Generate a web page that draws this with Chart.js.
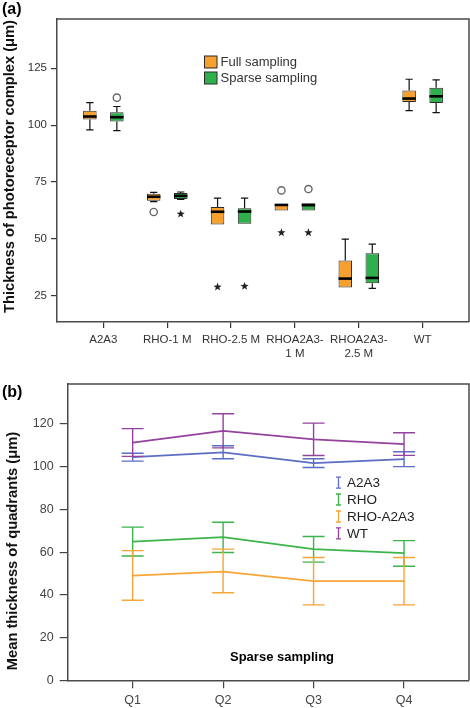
<!DOCTYPE html>
<html><head><meta charset="utf-8">
<script src="https://cdn.jsdelivr.net/npm/chart.js@4"></script>
<style>
html,body{margin:0;padding:0;background:#fff;overflow:hidden;}
#wa{position:absolute;left:0;top:0;width:470px;height:360px;}
#wb{position:absolute;left:0;top:360px;width:470px;height:348px;}
</style></head><body>
<div id="wa"><canvas id="ca" width="470" height="360"></canvas></div>
<div id="wb"><canvas id="cb" width="470" height="348"></canvas></div>
<script>
// ---------- Panel (a) data ----------
const groups = [['A2A3'], ['RHO-1 M'], ['RHO-2.5 M'], ['RHOA2A3-', '1 M'], ['RHOA2A3-', '2.5 M'], ['WT']];
const yTicksA = [25, 50, 75, 100, 125];
const fullLow  = [97.9, 66.4, 56.3, 62.5, 28.6, 106.4];
const fullQ1   = [102.5, 66.7, 56.3, 62.5, 28.6, 110.2];
const fullMed  = [103.8, 68.5, 61.9, 64.9, 32.5, 111.7];
const fullQ3   = [106.3, 69.8, 64.0, 65.3, 40.5, 115.2];
const fullHigh = [109.9, 70.4, 67.9, 65.3, 49.9, 120.2];
const sparseLow  = [97.6, 67.3, 56.6, 62.5, 28.2, 105.5];
const sparseQ1   = [101.6, 67.5, 56.6, 62.5, 30.4, 109.8];
const sparseMed  = [103.5, 68.9, 62.0, 64.8, 32.8, 112.7];
const sparseQ3   = [105.7, 70.1, 63.4, 65.6, 43.6, 116.5];
const sparseHigh = [108.2, 70.6, 67.9, 65.6, 47.7, 119.9];
// [group index, value, marker]
const fullOutliers   = [[1, 61.8, 'circle'], [2, 28.8, 'star'], [3, 71.3, 'circle'], [3, 52.7, 'star']];
const sparseOutliers = [[0, 112.1, 'circle'], [1, 60.9, 'star'], [2, 29.1, 'star'], [3, 71.9, 'circle'], [3, 52.7, 'star']];

// ---------- Panel (b) data ----------
const quadrants = ['Q1', 'Q2', 'Q3', 'Q4'];
const yTicksB = [0, 20, 40, 60, 80, 100, 120];
const seriesNames = ['A2A3', 'RHO', 'RHO-A2A3', 'WT'];
const a2a3Mean = [104.5, 106.7, 101.7, 103.5];
const a2a3Low  = [102.6, 103.7, 99.6, 100.0];
const a2a3High = [106.3, 109.8, 103.7, 107.0];
const rhoMean = [64.9, 67.0, 61.4, 59.5];
const rhoLow  = [58.2, 59.8, 55.3, 53.4];
const rhoHigh = [71.7, 74.0, 67.3, 65.4];
const rhoA2a3Mean = [49.0, 50.9, 46.4, 46.4];
const rhoA2a3Low  = [37.5, 41.0, 35.3, 35.3];
const rhoA2a3High = [60.7, 61.4, 57.5, 57.5];
const wtMean = [111.3, 116.8, 112.8, 110.6];
const wtLow  = [104.8, 108.8, 105.2, 105.3];
const wtHigh = [117.8, 124.8, 120.4, 115.9];

// ---------- styles ----------
const ORANGE = '#f6a030';
const GREEN = '#2fb04c';
const BOXLINE = '#2a2a2a';
const AXIS = '#4a4a4a';
const FONT = 'Liberation Sans, Arial, sans-serif';
const lineColors = ['#5b6dc6', '#3cb44b', '#f7a536', '#94429e'];

function drawStar(ctx, x, y, r) {
  ctx.beginPath();
  for (let k = 0; k < 10; k++) {
    const rad = k % 2 === 0 ? r : r * 0.42;
    const ang = -Math.PI / 2 + k * Math.PI / 5;
    const px = x + rad * Math.cos(ang), py = y + rad * Math.sin(ang);
    if (k === 0) ctx.moveTo(px, py); else ctx.lineTo(px, py);
  }
  ctx.closePath();
  ctx.fill();
}

const boxPlugin = {
  id: 'boxplot',
  afterDatasetsDraw(chart) {
    const ctx = chart.ctx, ys = chart.scales.y;
    const stats = [
      {low: fullLow, med: fullMed, q1: fullQ1, q3: fullQ3, high: fullHigh, out: fullOutliers},
      {low: sparseLow, med: sparseMed, q1: sparseQ1, q3: sparseQ3, high: sparseHigh, out: sparseOutliers}
    ];
    ctx.save();
    stats.forEach((s, di) => {
      const meta = chart.getDatasetMeta(di);
      meta.data.forEach((el, i) => {
        const x = el.x, w = el.width;
        const cap = w * 0.27;
        ctx.strokeStyle = '#111'; ctx.lineWidth = 1.2;
        ctx.beginPath();
        if (s.high[i] > s.q3[i]) {
          const yh = ys.getPixelForValue(s.high[i]), yq = ys.getPixelForValue(s.q3[i]);
          ctx.moveTo(x, yq); ctx.lineTo(x, yh);
          ctx.moveTo(x - cap, yh); ctx.lineTo(x + cap, yh);
        }
        if (s.low[i] < s.q1[i]) {
          const yl = ys.getPixelForValue(s.low[i]), yq = ys.getPixelForValue(s.q1[i]);
          ctx.moveTo(x, yq); ctx.lineTo(x, yl);
          ctx.moveTo(x - cap, yl); ctx.lineTo(x + cap, yl);
        }
        ctx.stroke();
        const ym = ys.getPixelForValue(s.med[i]);
        ctx.strokeStyle = '#000'; ctx.lineWidth = 2.6;
        ctx.beginPath(); ctx.moveTo(x - w / 2, ym); ctx.lineTo(x + w / 2, ym); ctx.stroke();
      });
      s.out.forEach(([gi, v, kind]) => {
        const x = meta.data[gi].x, y = ys.getPixelForValue(v);
        if (kind === 'circle') {
          ctx.strokeStyle = '#666'; ctx.lineWidth = 1.4;
          ctx.beginPath(); ctx.arc(x, y, 3.6, 0, Math.PI * 2); ctx.stroke();
        } else {
          ctx.fillStyle = '#222';
          drawStar(ctx, x, y, 4.3);
        }
      });
    });
    ctx.restore();
  },
  afterDraw(chart) {
    const ctx = chart.ctx, a = chart.chartArea;
    ctx.save();
    ctx.strokeStyle = AXIS; ctx.lineWidth = 1.5;
    ctx.beginPath(); ctx.moveTo(a.left, a.top); ctx.lineTo(a.right, a.top); ctx.lineTo(a.right, a.bottom); ctx.stroke();
    // legend
    const items = [[chart.data.datasets[0].label, ORANGE, 62], [chart.data.datasets[1].label, GREEN, 78]];
    ctx.font = '13px ' + FONT; ctx.textBaseline = 'middle'; ctx.textAlign = 'left';
    items.forEach(([t, c, y]) => {
      ctx.fillStyle = c; ctx.fillRect(204.5, y - 6, 12.5, 12);
      ctx.strokeStyle = BOXLINE; ctx.lineWidth = 1; ctx.strokeRect(204.5, y - 6, 12.5, 12);
      ctx.fillStyle = '#333'; ctx.fillText(t, 220.5, y + 0.5);
    });
    // panel label
    ctx.fillStyle = '#000'; ctx.font = 'bold 16px ' + FONT; ctx.textBaseline = 'alphabetic';
    ctx.fillText('(a)', 2, 13.5);
    // y title
    ctx.translate(9.5, 166.5); ctx.rotate(-Math.PI / 2);
    ctx.font = 'bold 14.7px ' + FONT; ctx.textAlign = 'center'; ctx.textBaseline = 'middle';
    ctx.fillStyle = '#111';
    ctx.fillText('Thickness of photoreceptor complex (\u03bcm)', 0, 0);
    ctx.restore();
  }
};

new Chart(document.getElementById('ca'), {
  type: 'bar',
  data: {
    datasets: [
      {label: 'Full sampling', data: groups.map((g, i) => ({x: i, y: [fullQ1[i], fullQ3[i]]})),
       backgroundColor: ORANGE, borderColor: BOXLINE, borderWidth: 1, borderSkipped: false,
       categoryPercentage: 0.846, barPercentage: 0.5},
      {label: 'Sparse sampling', data: groups.map((g, i) => ({x: i, y: [sparseQ1[i], sparseQ3[i]]})),
       backgroundColor: GREEN, borderColor: BOXLINE, borderWidth: 1, borderSkipped: false,
       categoryPercentage: 0.846, barPercentage: 0.5}
    ]
  },
  options: {
    responsive: false, animation: false, events: [],
    layout: {padding: {top: 19, right: 1, left: 0, bottom: 0}},
    plugins: {legend: {display: false}, tooltip: {enabled: false}},
    scales: {
      x: {
        type: 'linear', min: -0.726, max: 5.726, offset: false,
        afterBuildTicks: s => { s.ticks = groups.map((g, i) => ({value: i})); },
        afterFit: s => { s.height = 38; },
        ticks: {callback: v => groups[v], color: '#333', font: {family: FONT, size: 11.5}, padding: 5, maxRotation: 0, autoSkip: false},
        grid: {offset: false, drawOnChartArea: false, drawTicks: true, tickLength: 6, color: '#333', lineWidth: 1.2},
        border: {display: true, color: AXIS, width: 1.5}
      },
      y: {
        min: 13.4, max: 146.7,
        afterBuildTicks: s => { s.ticks = yTicksA.map(v => ({value: v})); },
        afterFit: s => { s.width = 57; },
        ticks: {color: '#333', font: {family: FONT, size: 11.5}, padding: 4},
        grid: {drawOnChartArea: false, drawTicks: true, tickLength: 6, color: '#333', lineWidth: 1.2},
        border: {display: true, color: AXIS, width: 1.5}
      }
    }
  },
  plugins: [boxPlugin]
});

// ---------- Panel (b) ----------
const means = [a2a3Mean, rhoMean, rhoA2a3Mean, wtMean];
const lows = [a2a3Low, rhoLow, rhoA2a3Low, wtLow];
const highs = [a2a3High, rhoHigh, rhoA2a3High, wtHigh];

const errPlugin = {
  id: 'errbars',
  afterDatasetsDraw(chart) {
    const ctx = chart.ctx, ys = chart.scales.y;
    ctx.save();
    ctx.lineWidth = 1.4;
    means.forEach((m, di) => {
      const meta = chart.getDatasetMeta(di);
      ctx.strokeStyle = lineColors[di];
      meta.data.forEach((pt, i) => {
        const x = pt.x, yl = ys.getPixelForValue(lows[di][i]), yh = ys.getPixelForValue(highs[di][i]);
        ctx.beginPath();
        ctx.moveTo(x, yl); ctx.lineTo(x, yh);
        ctx.moveTo(x - 11, yl); ctx.lineTo(x + 11, yl);
        ctx.moveTo(x - 11, yh); ctx.lineTo(x + 11, yh);
        ctx.stroke();
      });
    });
    ctx.restore();
  },
  afterDraw(chart) {
    const ctx = chart.ctx, a = chart.chartArea;
    ctx.save();
    ctx.strokeStyle = AXIS; ctx.lineWidth = 1.5;
    ctx.beginPath(); ctx.moveTo(a.left, a.top); ctx.lineTo(a.right, a.top); ctx.lineTo(a.right, a.bottom); ctx.stroke();
    // legend
    const rows = [122.7, 139.5, 156.5, 173.3];
    ctx.font = '13.5px ' + FONT; ctx.textBaseline = 'middle'; ctx.textAlign = 'left';
    seriesNames.forEach((n, i) => {
      const y = rows[i], x = 338.5;
      ctx.strokeStyle = lineColors[i]; ctx.lineWidth = 1.3;
      ctx.beginPath();
      ctx.moveTo(x, y - 5.5); ctx.lineTo(x, y + 5.5);
      ctx.moveTo(x - 2.5, y - 5.5); ctx.lineTo(x + 2.5, y - 5.5);
      ctx.moveTo(x - 2.5, y + 5.5); ctx.lineTo(x + 2.5, y + 5.5);
      ctx.stroke();
      ctx.fillStyle = '#222'; ctx.fillText(n, 347, y + 0.5);
    });
    ctx.fillStyle = '#000'; ctx.font = 'bold 13px ' + FONT;
    ctx.fillText('Sparse sampling', 230, 297.7);
    ctx.font = 'bold 16px ' + FONT; ctx.textBaseline = 'alphabetic';
    ctx.fillText('(b)', 2, 36.7);
    ctx.translate(12.5, 191); ctx.rotate(-Math.PI / 2);
    ctx.font = 'bold 14.7px ' + FONT; ctx.textAlign = 'center'; ctx.textBaseline = 'middle';
    ctx.fillStyle = '#111';
    ctx.fillText('Mean thickness of quadrants (\u03bcm)', 0, 0);
    ctx.restore();
  }
};

new Chart(document.getElementById('cb'), {
  type: 'line',
  data: {
    datasets: seriesNames.map((n, di) => ({
      label: n,
      data: quadrants.map((q, i) => ({x: i, y: means[di][i]})),
      borderColor: lineColors[di], borderWidth: 1.7, pointRadius: 0, tension: 0, fill: false
    }))
  },
  options: {
    responsive: false, animation: false, events: [],
    layout: {padding: {top: 24, right: 1, left: 0, bottom: 0}},
    plugins: {legend: {display: false}, tooltip: {enabled: false}},
    scales: {
      x: {
        type: 'linear', min: -0.718, max: 3.718,
        afterBuildTicks: s => { s.ticks = quadrants.map((q, i) => ({value: i})); },
        afterFit: s => { s.height = 27.7; },
        ticks: {callback: v => quadrants[v], color: '#444', font: {family: FONT, size: 12.5}, padding: 5, maxRotation: 0, autoSkip: false},
        grid: {drawOnChartArea: false, drawTicks: true, tickLength: 8, color: '#444', lineWidth: 1.2},
        border: {display: true, color: AXIS, width: 1.5}
      },
      y: {
        min: 0, max: 138.7,
        afterBuildTicks: s => { s.ticks = yTicksB.map(v => ({value: v})); },
        afterFit: s => { s.width = 67.7; },
        ticks: {color: '#444', font: {family: FONT, size: 12.5}, padding: 6},
        grid: {drawOnChartArea: false, drawTicks: true, tickLength: 8, color: '#444', lineWidth: 1.2},
        border: {display: true, color: AXIS, width: 1.5}
      }
    }
  },
  plugins: [errPlugin]
});
</script>
</body></html>
